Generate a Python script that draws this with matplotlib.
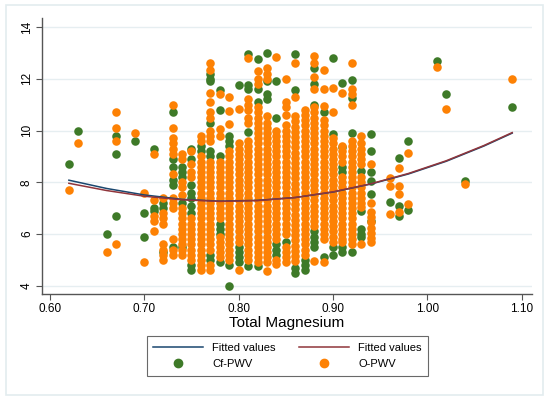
import matplotlib.pyplot as plt
from matplotlib.patches import Rectangle
from matplotlib.lines import Line2D

# total magnesium columns and the PWV readings in each column
mg = [0.62, 0.63, 0.66, 0.67, 0.69, 0.70, 0.71, 0.72, 0.73, 0.74, 0.75, 0.76,
      0.77, 0.78, 0.79, 0.80, 0.81, 0.82, 0.83, 0.84, 0.85, 0.86, 0.87, 0.88,
      0.89, 0.90, 0.91, 0.92, 0.93, 0.94, 0.96, 0.97, 0.98, 1.01, 1.02, 1.04, 1.09]

cf_pwv = [
    [8.7], [10.0], [6.0], [9.8, 9.1, 6.7], [9.6], [6.8, 5.9], [9.3, 7.0, 6.9],
    [7.2, 7.0, 5.3],
    [10.7, 8.9, 8.6, 8.1, 7.9, 5.5],
    [8.6, 8.4, 8.2, 7.2, 5.5],
    [9.3, 8.9, 7.9, 7.6, 7.4, 7.1, 6.8, 4.8, 4.6],
    [9.4, 9.2],
    [12.2, 12.0, 11.9, 10.3, 9.2, 9.0, 5.2, 5.0],
    [11.55, 10.8, 9.0, 6.4, 6.2, 6.0, 4.9],
    [9.8, 9.6, 9.4, 4.8, 4.0],
    [11.75, 5.5, 5.3, 5.1, 4.9],
    [12.95, 11.75, 11.6, 9.95, 4.75],
    [12.75, 11.6, 11.1, 4.75],
    [13.0, 11.9, 11.4, 11.2],
    [11.9, 10.5, 5.6, 5.4, 5.2],
    [5.7],
    [12.95, 11.55, 4.7, 4.5],
    [5.0, 4.8, 4.6],
    [12.4, 11.8, 11.0, 6.1, 5.9, 5.7, 5.5],
    [10.7, 5.1],
    [12.8, 9.85, 5.5, 5.2],
    [11.85, 9.35, 8.6, 8.4, 5.5, 5.3],
    [11.95, 11.25, 9.9, 5.3],
    [8.45, 6.9, 6.2, 6.0, 5.9],
    [9.85, 9.2, 8.4, 8.05, 7.55, 6.5],
    [7.25],
    [8.95, 7.1, 6.7],
    [9.6, 6.93],
    [12.7], [11.4], [8.05], [10.9],
]

o_pwv = [
    [7.7], [9.5], [5.3], [10.7, 10.1, 9.6, 5.6], [9.9], [7.6, 4.9],
    [9.1, 7.3, 6.7, 6.5, 6.1],
    [7.4, 6.8, 6.6, 6.4, 5.6, 5.4, 5.2, 5.0],
    [11.0, 10.1, 9.7, 9.5, 9.3, 9.1, 8.3, 7.4, 7.2, 7.0, 5.8, 5.4, 5.2],
    [9.1, 8.9, 8.0, 7.8, 7.5, 7.0, 6.8, 6.6, 6.4, 6.2, 6.0, 5.8, 5.6, 5.4, 5.2],
    [9.2, 8.7, 8.4, 8.2, 6.6, 6.4, 6.2, 6.0, 5.8, 5.6, 5.4, 5.2, 5.0],
    [9.8, 9.6, 9.0, 8.8, 8.6, 8.4, 8.2, 8.0, 7.8, 7.6, 7.4, 7.2, 7.0, 6.8, 6.6,
     6.4, 6.2, 6.0, 5.8, 5.6, 5.4, 5.2, 5.0, 4.8, 4.6],
    [12.6, 12.35, 11.45, 11.1, 10.7, 10.5, 10.0, 9.8, 9.6, 8.8, 8.6, 8.4, 8.2,
     8.0, 7.8, 7.6, 7.4, 7.2, 7.0, 6.8, 6.6, 6.4, 6.2, 6.0, 5.8, 5.6, 5.4, 4.8, 4.6],
    [11.4, 10.05, 9.8, 8.8, 8.6, 8.4, 8.2, 8.0, 7.8, 7.6, 7.4, 7.2, 7.0, 6.8,
     6.6, 5.9, 5.7, 5.5, 5.3, 5.1],
    [11.3, 10.75, 10.25, 9.2, 9.0, 8.8, 8.6, 8.4, 8.2, 8.0, 7.8, 7.6, 7.4, 7.2,
     7.0, 6.8, 6.6, 6.4, 6.2, 6.0, 5.8, 5.6, 5.4, 5.2, 5.0],
    [10.85, 9.5, 9.3, 9.1, 8.9, 8.7, 8.5, 8.3, 8.1, 7.9, 7.7, 7.5, 7.3, 7.1,
     6.9, 6.7, 6.5, 6.3, 6.1, 5.9, 5.7, 4.6],
    [12.8, 11.2, 11.0, 10.8, 10.5, 10.3, 9.6, 9.4, 9.2, 9.0, 8.8, 8.6, 8.4, 8.2,
     8.0, 7.8, 7.6, 7.4, 7.2, 7.0, 6.8, 6.6, 6.4, 6.2, 6.0, 5.8, 5.6, 5.4, 5.2, 5.0],
    [12.3, 12.0, 11.8, 10.9, 10.7, 10.5, 10.3, 10.1, 9.9, 9.7, 9.5, 9.3, 9.1,
     8.9, 8.7, 8.5, 8.3, 8.1, 7.9, 7.7, 7.5, 7.3, 7.1, 6.9, 6.7, 6.5, 6.3, 6.1,
     5.9, 5.7, 5.5, 5.3, 5.1, 4.9],
    [12.4, 12.2, 12.0, 10.55, 10.3, 10.1, 9.9, 9.7, 9.5, 9.3, 9.1, 8.9, 8.7,
     8.5, 8.3, 8.1, 7.9, 7.7, 7.5, 7.3, 7.1, 6.9, 6.7, 6.5, 6.3, 6.1, 5.9, 5.7,
     5.5, 5.3, 5.1, 4.9, 4.55],
    [12.85, 10.0, 9.8, 9.6, 9.4, 9.2, 9.0, 8.8, 8.6, 8.4, 8.2, 8.0, 7.8, 7.6,
     7.4, 7.2, 7.0, 6.8, 6.6, 6.4, 6.2, 6.0, 5.8, 5.0, 4.85],
    [12.0, 11.1, 10.9, 10.6, 10.2, 10.0, 9.8, 9.6, 9.4, 9.2, 9.0, 8.8, 8.6, 8.4,
     8.2, 8.0, 7.8, 7.6, 7.4, 7.2, 7.0, 6.8, 6.6, 6.4, 6.2, 6.0, 5.5, 5.3, 5.1, 4.9],
    [12.6, 11.3, 10.55, 10.35, 10.15, 9.95, 9.75, 9.55, 9.35, 9.15, 8.95, 8.75,
     8.55, 8.35, 8.15, 7.95, 7.75, 7.55, 7.35, 7.15, 6.95, 6.75, 6.55, 6.35,
     6.15, 5.95, 5.75, 5.55, 5.35, 5.15, 4.95],
    [10.8, 10.6, 10.4, 10.2, 10.0, 9.8, 9.6, 9.4, 9.2, 9.0, 8.8, 8.6, 8.4, 8.2,
     8.0, 7.8, 7.6, 7.4, 7.2, 7.0, 6.8, 6.6, 6.4, 6.2, 6.0, 5.8, 5.6, 5.4, 5.2],
    [12.9, 12.6, 12.05, 11.6, 10.9, 10.7, 10.5, 10.3, 10.1, 9.9, 9.7, 9.5, 9.3,
     9.1, 8.9, 8.7, 8.5, 8.3, 8.1, 7.9, 7.7, 7.5, 7.3, 7.1, 6.9, 6.7, 6.5, 6.3, 4.95],
    [12.35, 11.6, 10.95, 10.4, 10.2, 10.0, 9.8, 9.6, 9.4, 9.2, 9.0, 8.8, 8.6,
     8.4, 8.2, 8.0, 7.8, 7.6, 7.4, 7.2, 7.0, 6.8, 6.6, 6.4, 6.2, 6.0, 5.8, 4.9],
    [11.65, 10.7, 9.7, 9.5, 9.3, 9.1, 8.9, 8.7, 8.5, 8.3, 8.1, 7.9, 7.7, 7.5,
     7.3, 7.1, 6.9, 6.7, 6.5, 6.3, 6.1, 5.9, 5.7],
    [11.45, 9.4, 9.2, 9.0, 8.8, 8.2, 8.0, 7.8, 7.6, 7.4, 7.2, 7.0, 6.8, 6.6,
     6.4, 6.2, 6.0, 5.8, 5.7],
    [12.6, 11.6, 11.4, 11.0, 9.6, 9.4, 9.2, 9.0, 8.8, 8.6, 8.4, 8.2, 8.0, 7.8,
     7.6, 7.4, 7.2, 7.0, 6.8, 6.6, 6.4, 6.2, 6.0, 5.8, 5.6],
    [9.8, 9.5, 9.3, 9.1, 8.9, 8.7, 8.2, 8.0, 7.8, 7.6, 7.4, 7.2, 7.05, 5.6],
    [8.7, 7.2, 6.85, 6.65, 6.45, 6.25, 6.05, 5.85, 5.7],
    [8.15, 7.85, 6.77],
    [8.55, 7.85, 7.55, 6.85],
    [9.15, 7.15],
    [12.45], [10.85], [7.95], [12.0],
]

# quadratic fitted values
fit_x = [0.62, 0.66, 0.70, 0.74, 0.78, 0.82, 0.86, 0.90, 0.94, 0.98, 1.02, 1.06, 1.09]
fit_cf = [8.08, 7.76, 7.51, 7.34, 7.27, 7.30, 7.41, 7.62, 7.93, 8.32, 8.81, 9.40, 9.90]
fit_o = [7.96, 7.68, 7.46, 7.32, 7.26, 7.29, 7.41, 7.63, 7.94, 8.34, 8.83, 9.42, 9.92]

green = '#3e7a28'
orange = '#fd8104'
navy = '#1a476f'
maroon = '#90353b'

plt.rcParams['font.family'] = ['Liberation Sans', 'DejaVu Sans']

fig = plt.figure(figsize=(5.5, 4), dpi=100)
fig.patches.append(Rectangle((6 / 550, 5 / 400), 537 / 550, 390 / 400,
                             transform=fig.transFigure, fill=False,
                             edgecolor='#e3ecef', linewidth=1.2))
ax = fig.add_axes([42 / 550, 106 / 400, 490 / 550, 276 / 400])

gx, gy = [], []
for x, ys in zip(mg, cf_pwv):
    gx += [x] * len(ys)
    gy += ys
ox, oy = [], []
for x, ys in zip(mg, o_pwv):
    ox += [x] * len(ys)
    oy += ys

ax.scatter(gx, gy, s=38, color=green, linewidths=0, zorder=2)
ax.scatter(ox, oy, s=38, color=orange, linewidths=0, zorder=3)
ax.plot(fit_x, fit_cf, color=navy, lw=1.1, zorder=4)
ax.plot(fit_x, fit_o, color=maroon, lw=1.1, zorder=4)

ax.set_xlim(0.5915, 1.111)
ax.set_ylim(3.68, 14.35)
ax.set_xticks([0.60, 0.70, 0.80, 0.90, 1.00, 1.10])
ax.set_xticklabels(['0.60', '0.70', '0.80', '0.90', '1.00', '1.10'], fontsize=8.5)
ax.set_yticks([4, 6, 8, 10, 12, 14])
ax.set_yticklabels(['4', '6', '8', '10', '12', '14'], fontsize=8.5,
                   rotation=90, va='center')
ax.yaxis.grid(True, color='#e6eef1', lw=1)
ax.set_axisbelow(True)
for s in ['top', 'right']:
    ax.spines[s].set_visible(False)
for s in ['left', 'bottom']:
    ax.spines[s].set_color('#555555')
    ax.spines[s].set_linewidth(1)
ax.tick_params(length=4.5, width=0.8, color='#555555', pad=2)
ax.set_xlabel('Total Magnesium', fontsize=11, labelpad=1)

handles = [Line2D([], [], color=navy, lw=1.1),
           Line2D([], [], marker='o', ls='', color=green, markersize=6),
           Line2D([], [], color=maroon, lw=1.1),
           Line2D([], [], marker='o', ls='', color=orange, markersize=6)]
labels = ['Fitted values', 'Cf-PWV', 'Fitted values', 'O-PWV']
leg = fig.legend(handles, labels, ncol=2, loc='center',
                 bbox_to_anchor=(0.5227, 0.11), fontsize=8, frameon=True,
                 fancybox=False, edgecolor='#444444', handlelength=4.5,
                 handletextpad=0.8, columnspacing=2.1, borderpad=0.6,
                 labelspacing=0.6)
leg.get_frame().set_linewidth(0.8)

fig.savefig('out.png', dpi=100)
